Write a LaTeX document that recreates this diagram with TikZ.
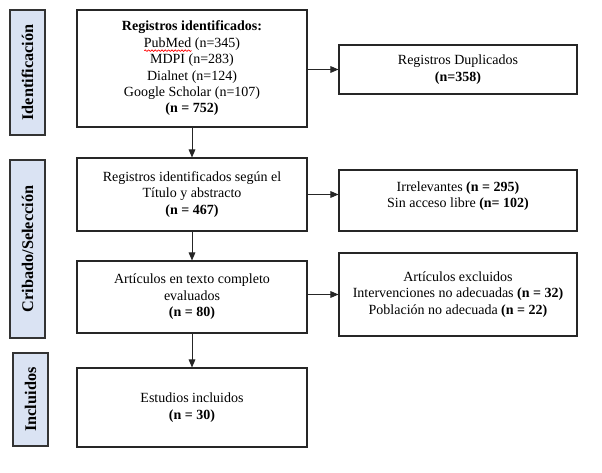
\documentclass[tikz,border=0pt]{standalone}
\usepackage{fontspec}
\setmainfont{Liberation Serif}
\usetikzlibrary{arrows.meta, decorations.pathmorphing}
\definecolor{phasefill}{RGB}{218,227,243}
\newlength\wavewd
\newcommand\spellwave[1]{\settowidth\wavewd{#1}\smash{\rlap{\tikz[baseline=0pt]\draw[red, line width=0.5pt, decorate, decoration={snake, amplitude=0.6pt, segment length=2.5pt}] (0pt,-2.5pt) -- (\wavewd,-2.5pt);}}#1}

\begin{document}
\begin{tikzpicture}[x=0.75pt, y=-0.75pt,
        phase/.style={rectangle, draw=black!80, line width=1pt, fill=phasefill, rotate=90, font=\fontsize{12.2}{14}\selectfont\bfseries, minimum height=26.25pt, inner sep=0pt},
        stage/.style={rectangle, draw=black!85, line width=0.8pt, align=center, font=\fontsize{10.5}{12.3}\selectfont, minimum width=172.5pt, inner sep=2pt},
        excluded/.style={stage, minimum width=178.5pt},
        arrow/.style={draw=black!85, line width=0.7pt, -{Triangle[length=6pt, width=5pt]}}
    ]
        \useasboundingbox (0,0) rectangle (602,473);

        % Phases
        \node[phase, minimum width=93.75pt] (ident) at (27.5, 72.5) {Identificación};
        \node[phase, minimum width=133.5pt] (cribado) at (27.5, 249) {Cribado/Selección};
        \node[phase, minimum width=69.75pt] (incl) at (30.5, 399.5) {Incluidos};

        % Main flow
        \node[stage, minimum height=87.75pt] (registros) at (192, 68.5) {\textbf{Registros identificados:}\\ \spellwave{PubMed} (n=345)\\ MDPI (n=283)\\ Dialnet (n=124)\\ Google Scholar (n=107)\\ \textbf{(n = 752)}};
        \node[stage, minimum height=54.75pt] (titulo) at (192, 194.5) {Registros identificados según el\\ Título y abstracto\\ \textbf{(n = 467)}};
        \node[stage, minimum height=54pt] (completo) at (192, 297) {Artículos en texto completo\\ evaluados\\ \textbf{(n = 80)}};
        \node[stage, minimum height=59.25pt] (estudios) at (192, 407.5) {Estudios incluidos\\ \textbf{(n = 30)}};

        % Excluded
        \node[excluded, minimum height=36.75pt] (duplicados) at (458, 69.5) {Registros Duplicados\\ \textbf{(n=358)}};
        \node[excluded, minimum height=45.75pt, text depth=9pt] (irrelev) at (458, 200.5) {Irrelevantes \textbf{(n = 295)}\\ Sin acceso libre \textbf{(n= 102)}};
        \node[excluded, minimum height=62.25pt] (excluidos) at (458, 294.5) {Artículos excluidos\\ Intervenciones no adecuadas \textbf{(n = 32)}\\ Población no adecuada \textbf{(n = 22)}};

        % Connections
        \draw[arrow] (registros) -- (titulo);
        \draw[arrow] (titulo) -- (completo);
        \draw[arrow] (completo) -- (estudios);
        \draw[arrow] (registros.east |- duplicados.west) -- (duplicados.west);
        \draw[arrow] (titulo.east) -- (titulo.east -| irrelev.west);
        \draw[arrow] (completo.east |- excluidos.west) -- (excluidos.west);
    \end{tikzpicture}
\end{document}
